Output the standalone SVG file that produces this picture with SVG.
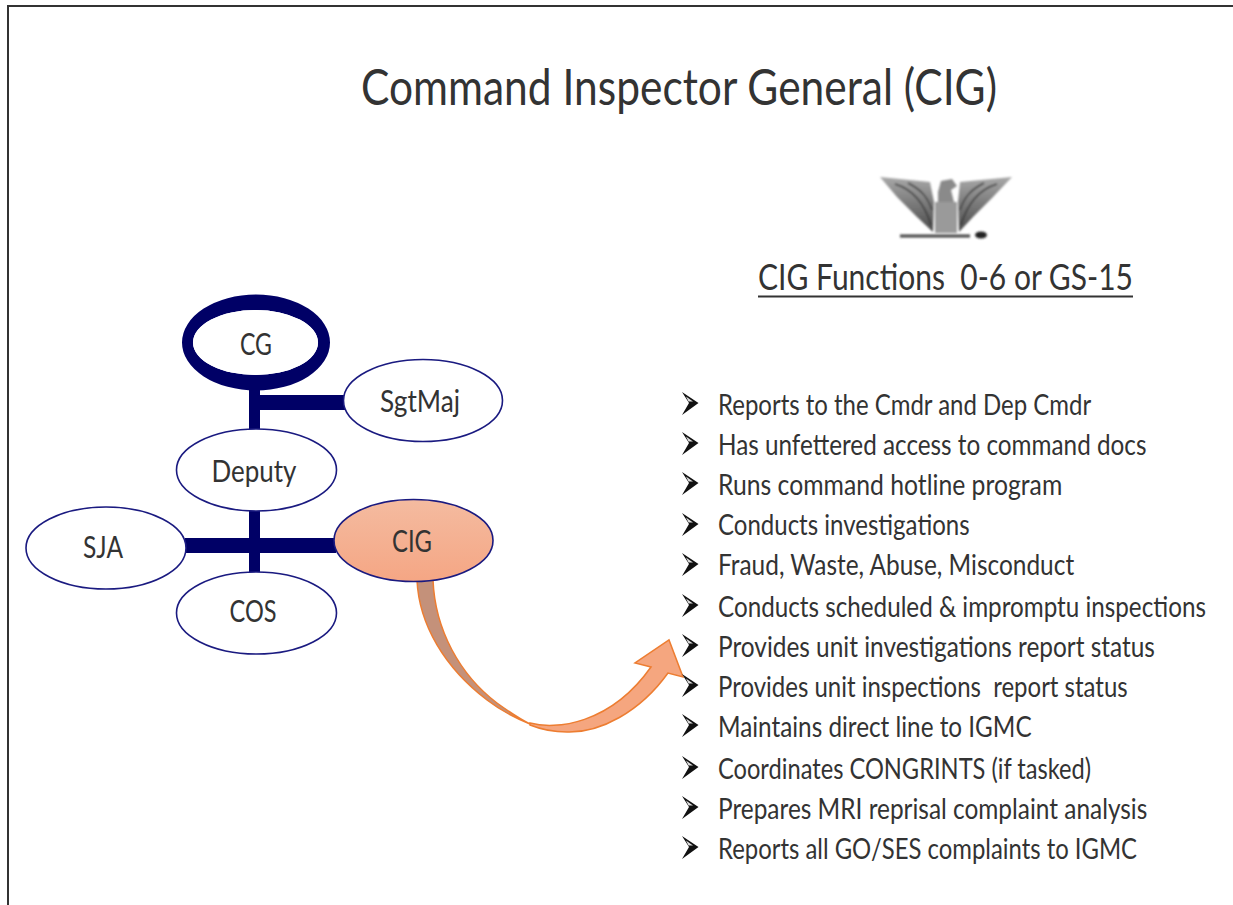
<svg xmlns="http://www.w3.org/2000/svg" width="1233" height="905" viewBox="0 0 1233 905">
<style>
text{font-family:"Lato","Open Sans","Liberation Sans",sans-serif;fill:#333;white-space:pre}
.n{font-size:30px;text-anchor:middle}
.b{font-size:29px}
.e{fill:#fff;stroke:#1a1a80;stroke-width:1.600}
.c{stroke:#000066;fill:none}
.f{stroke:#3a3a3a;stroke-width:1.500;fill:none}
</style>
<defs>
<linearGradient id="g" x1="0" y1="0" x2="0" y2="1"><stop offset="0" stop-color="#f4bba0"/><stop offset="1" stop-color="#f5a684"/></linearGradient>
<linearGradient id="w" x1="0" y1="0" x2="0" y2="1"><stop offset="0" stop-color="#a8a8a8"/><stop offset="1" stop-color="#4a4a4a"/></linearGradient>
<filter id="s" x="-10%" y="-10%" width="120%" height="120%"><feGaussianBlur stdDeviation="0.8"/></filter>
<g id="a"><path d="M0 -11L16.500 0L0 12L7 0Z" fill="#111"/><path d="M4 -6.500L11 -1.500L6.500 -1.500Z" fill="#ddd"/></g>
</defs>
<rect width="1233" height="905" fill="#fff"/>
<path d="M8 905V6H1233" fill="none" stroke="#333" stroke-width="2"/>
<g id="connectors">
<path class="c" stroke-width="11" d="M254.500 380V580"/>
<path class="c" stroke-width="15" d="M254.500 402.500H345M185 545.500H336"/>
<path d="M530 723C555 730 610 725 651 667L635 663L669 640L683 677L668 673C640 712 600 733 567 732C550 732 540 729 530 725Z" fill="#f5a67f" stroke="#ed7d31" stroke-width="1.500"/>
<path d="M417 580C419 625 445 668 487 700C500 710 515 718 530 724C520 719 508 711 497 703C460 675 435 630 433 580Z" fill="#c4917a" stroke="#ed7d31" stroke-width="1.500"/>
</g>
<g id="cg"><path fill-rule="evenodd" fill="#000066" d="M182 342.500A74 48 0 1 0 330 342.500A74 48 0 1 0 182 342.500ZM193 342.500A62.500 32.500 0 1 1 318 342.500A62.500 32.500 0 1 1 193 342.500Z"/><ellipse cx="255.500" cy="342.500" rx="62.500" ry="32.500" fill="#fff"/><text class="n" x="256" y="355" textLength="32" lengthAdjust="spacingAndGlyphs">CG</text></g>
<g id="sgtmaj"><ellipse class="e" cx="423" cy="400.500" rx="79.500" ry="41"/><text class="n" x="420" y="412" textLength="80" lengthAdjust="spacingAndGlyphs">SgtMaj</text></g>
<g id="deputy"><ellipse class="e" cx="256.500" cy="470" rx="80" ry="41"/><text class="n" x="254" y="482" textLength="85" lengthAdjust="spacingAndGlyphs">Deputy</text></g>
<g id="sja"><ellipse class="e" cx="106" cy="548" rx="80" ry="41"/><text class="n" x="103" y="558" textLength="40" lengthAdjust="spacingAndGlyphs">SJA</text></g>
<g id="cig"><ellipse cx="413.500" cy="540.500" rx="79.500" ry="41" fill="url(#g)" stroke="#1a1a80" stroke-width="1.600"/><text class="n" x="412" y="552" textLength="40" lengthAdjust="spacingAndGlyphs">CIG</text></g>
<g id="cos"><ellipse class="e" cx="256.500" cy="613" rx="80" ry="41"/><text class="n" x="253" y="622" textLength="47" lengthAdjust="spacingAndGlyphs">COS</text></g>
<text x="361" y="105" font-size="50" textLength="636" lengthAdjust="spacingAndGlyphs">Command Inspector General (CIG)</text>
<g id="insignia" filter="url(#s)">
<path d="M880 177L930 182L934 202L933 232L917 217L897 197ZM1012 177L960 182L958 202L959 232L973 217L993 197Z" fill="url(#w)"/>
<path class="f" d="M895 184C915 190 925 205 931 225M908 183C922 190 928 198 932 210M997 184C977 190 967 205 961 225M984 183C970 190 964 198 960 210"/>
<path d="M938 192L941 181L952 179L957 186L951 190L954 202H938Z" fill="#8a8a8a"/>
<rect x="935" y="202" width="22" height="31" fill="#9a9a9a"/>
<path d="M900 236H970" stroke="#444" stroke-width="3"/><ellipse cx="981" cy="235" rx="6" ry="3.500" fill="#222"/>
</g>
<text x="758" y="290" font-size="36" textLength="375" lengthAdjust="spacingAndGlyphs">CIG Functions  0-6 or GS-15</text>
<path d="M758 296.500H1133" stroke="#333" stroke-width="2"/>
<g id="bullets">
<use href="#a" x="682" y="403"/><use href="#a" x="682" y="443"/><use href="#a" x="682" y="483"/><use href="#a" x="682" y="524"/><use href="#a" x="682" y="564"/><use href="#a" x="682" y="605"/><use href="#a" x="682" y="645"/><use href="#a" x="682" y="685"/><use href="#a" x="682" y="725"/><use href="#a" x="682" y="767"/><use href="#a" x="682" y="807"/><use href="#a" x="682" y="847"/>
</g>
<g id="list" transform="translate(718 0) scale(.85 1)">
<text class="b" x="0" y="415" textLength="439" lengthAdjust="spacingAndGlyphs">Reports to the Cmdr and Dep Cmdr</text>
<text class="b" x="0" y="455" textLength="504" lengthAdjust="spacingAndGlyphs">Has unfettered access to command docs</text>
<text class="b" x="0" y="495" textLength="405" lengthAdjust="spacingAndGlyphs">Runs command hotline program</text>
<text class="b" x="0" y="535" textLength="296" lengthAdjust="spacingAndGlyphs">Conducts investigations</text>
<text class="b" x="0" y="575" textLength="419" lengthAdjust="spacingAndGlyphs">Fraud, Waste, Abuse, Misconduct</text>
<text class="b" x="0" y="617" textLength="574" lengthAdjust="spacingAndGlyphs">Conducts scheduled &amp; impromptu inspections</text>
<text class="b" x="0" y="657" textLength="514" lengthAdjust="spacingAndGlyphs">Provides unit investigations report status</text>
<text class="b" x="0" y="697" textLength="482" lengthAdjust="spacingAndGlyphs">Provides unit inspections  report status</text>
<text class="b" x="0" y="737" textLength="369" lengthAdjust="spacingAndGlyphs">Maintains direct line to IGMC</text>
<text class="b" x="0" y="779" textLength="439" lengthAdjust="spacingAndGlyphs">Coordinates CONGRINTS (if tasked)</text>
<text class="b" x="0" y="819" textLength="505" lengthAdjust="spacingAndGlyphs">Prepares MRI reprisal complaint analysis</text>
<text class="b" x="0" y="859" textLength="493" lengthAdjust="spacingAndGlyphs">Reports all GO/SES complaints to IGMC</text>
</g>
</svg>
